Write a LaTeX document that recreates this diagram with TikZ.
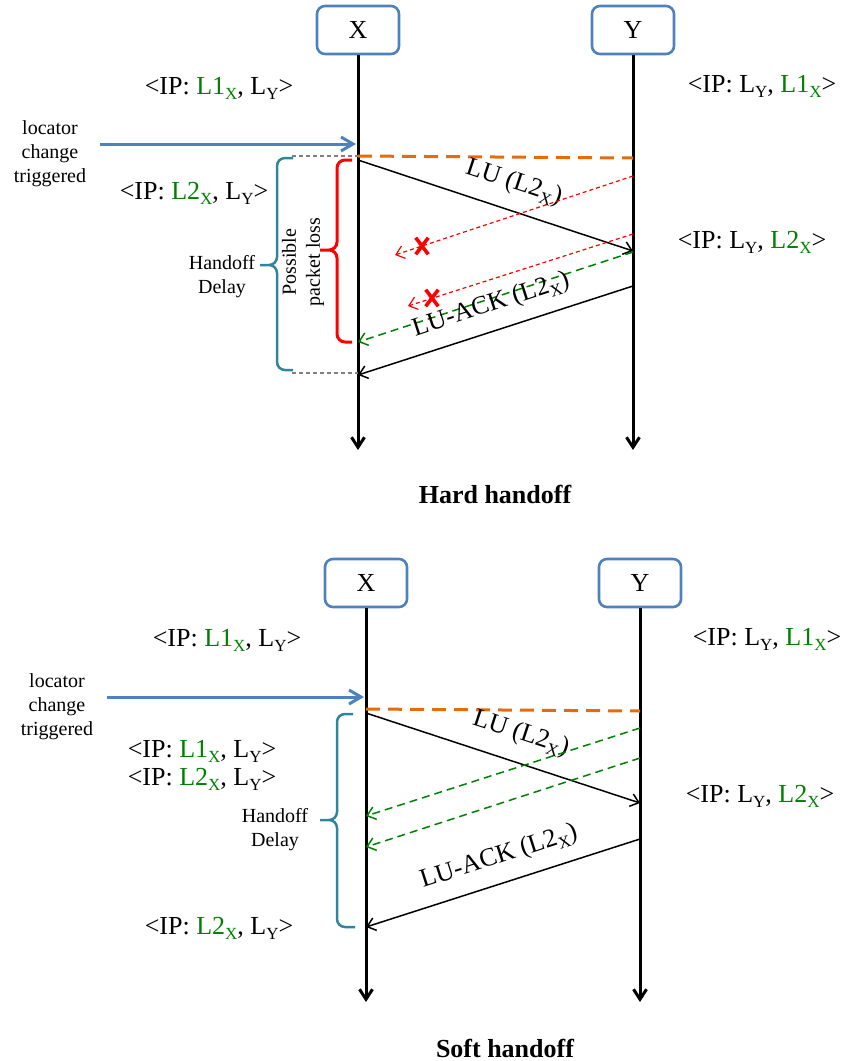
\documentclass[tikz,border=0pt]{standalone}
\usepackage{fontspec}
\setmainfont{Liberation Serif}
\usepackage{xcolor}
\definecolor{boxblue}{RGB}{79,129,189}
\definecolor{hoorange}{RGB}{228,108,10}
\definecolor{braceteal}{RGB}{49,133,155}
\definecolor{locgreen}{RGB}{0,128,0}
\definecolor{guidegray}{RGB}{128,128,128}
\usepackage{tikz}
\usetikzlibrary{arrows.meta, shapes.misc}

\newcommand{\sbx}[1]{\raisebox{-2.6pt}{\fontsize{8.5}{9}\selectfont #1}}
\newcommand{\locx}[1]{\textcolor{locgreen}{L#1\sbx{X}}}
\newcommand{\locy}{L\sbx{Y}}

\tikzset{
  entity/.style={draw=boxblue, line width=1.3pt, rounded corners=4pt,
    minimum width=41pt, minimum height=24pt, font=\fontsize{13}{15.6}\selectfont},
  lifeline/.style={line width=1.5pt, -{Straight Barb[length=5pt,width=6.5pt]}},
  trigarrow/.style={boxblue, line width=1.5pt, -{Straight Barb[length=6pt,width=7pt]}},
  switchline/.style={hoorange, line width=1.5pt, dash pattern=on 7pt off 4pt},
  msg/.style={line width=0.75pt, -{Straight Barb[length=4pt,width=6.5pt]}},
  lostmsg/.style={red, line width=0.6pt, dash pattern=on 2pt off 1.5pt,
    -{Straight Barb[length=4pt,width=6.5pt]}},
  dupmsg/.style={locgreen, line width=0.75pt, dash pattern=on 4pt off 2.5pt,
    -{Straight Barb[length=4pt,width=6.5pt]}},
  guideline/.style={guidegray, line width=0.6pt, dash pattern=on 2pt off 1.5pt},
  delaybrace/.style={braceteal, line width=1.25pt, rounded corners=4pt},
  lossbrace/.style={red, line width=1.5pt, rounded corners=4pt},
  lossmark/.style={cross out, draw=red, line width=1.8pt, minimum width=4.5pt,
    minimum height=6.5pt, inner sep=0pt},
  iplabel/.style={anchor=base, inner sep=0pt, font=\fontsize{13}{15.6}\selectfont},
  msglabel/.style={inner sep=0pt, font=\fontsize{13}{15.6}\selectfont},
  notetext/.style={align=center, inner sep=0pt, font=\fontsize{10}{12}\selectfont},
  casetitle/.style={anchor=base, inner sep=0pt, font=\fontsize{13}{15.6}\selectfont\bfseries},
}

\begin{document}
\begin{tikzpicture}[x=0.5pt, y=-0.5pt]
  \useasboundingbox (0,0) rectangle (843,1061);

  % ---- Hard handoff (top) ----
  \node[entity] (X1) at (358,30) {X};
  \node[entity] (Y1) at (633,30) {Y};
  \coordinate (X1end) at (358,450);
  \coordinate (Y1end) at (633,450);
  \draw[lifeline] (X1) -- (X1end);
  \draw[lifeline] (Y1) -- (Y1end);

  \node[iplabel] (ipx1) at (219,94) {<IP: \locx{1}, \locy>};
  \node[iplabel] (ipy1) at (762,92) {<IP: \locy, \locx{1}>};
  \node[iplabel] (ipx2) at (194,199) {<IP: \locx{2}, \locy>};
  \node[iplabel] (ipy2) at (752,248) {<IP: \locy, \locx{2}>};

  % locator change trigger
  \node[notetext] (trig1) at (50,154) {locator\\change\\triggered};
  \coordinate (trig1s) at (100,144);
  \coordinate (X1trig) at (356,144);
  \draw[trigarrow] (trig1s) -- (X1trig);

  % switch instant
  \coordinate (X1sw) at (358,156);
  \coordinate (Y1sw) at (633,158);
  \draw[switchline] (X1sw) -- (Y1sw);

  % messages
  \coordinate (X1lu) at (358,160);
  \coordinate (Y1lu) at (633,251);
  \draw[msg] (X1lu) -- (Y1lu);
  \node[msglabel, rotate=-18.3] (lu1) at (514,183) {LU (L2\sbx{X})};

  \coordinate (Y1r1) at (633,176);
  \coordinate (lost1) at (395,255);
  \draw[lostmsg] (Y1r1) -- (lost1);
  \node[lossmark] (cx1) at (422,246) {};
  \coordinate (Y1r2) at (633,234);
  \coordinate (lost2) at (408,306);
  \draw[lostmsg] (Y1r2) -- (lost2);
  \node[lossmark] (cx2) at (432,298) {};

  \coordinate (Y1g) at (633,252);
  \coordinate (X1g) at (358,342);
  \draw[dupmsg] (Y1g) -- (X1g);

  \coordinate (Y1ack) at (633,286);
  \coordinate (X1ack) at (358,375);
  \draw[msg] (Y1ack) -- (X1ack);
  \node[msglabel, rotate=18] (ack1) at (491,305) {LU-ACK (L2\sbx{X})};

  % delay and loss braces
  \coordinate (g1a) at (292,156);
  \coordinate (g1b) at (292,373);
  \coordinate (X1bot) at (358,373);
  \draw[guideline] (g1a) -- (X1sw);
  \draw[guideline] (g1b) -- (X1bot);
  \draw[delaybrace] (293,158) -| (277,265) -- (260,265)
                    (293,370) -| (277,265) -- (260,265);
  \node[notetext] (hd1) at (222,277) {Handoff\\Delay};
  \draw[lossbrace] (352,160) -| (337,250) -- (320,250)
                   (352,342) -| (337,250) -- (320,250);
  \node[notetext, rotate=90] (pl1) at (303,262) {Possible\\packet loss};

  \node[casetitle] (hard) at (495,503) {Hard handoff};

  % ---- Soft handoff (bottom) ----
  \node[entity] (X2) at (366,583) {X};
  \node[entity] (Y2) at (640,583) {Y};
  \coordinate (X2end) at (366,1002);
  \coordinate (Y2end) at (640,1002);
  \draw[lifeline] (X2) -- (X2end);
  \draw[lifeline] (Y2) -- (Y2end);

  \node[iplabel] (ipx3) at (227,646) {<IP: \locx{1}, \locy>};
  \node[iplabel] (ipy3) at (767,645) {<IP: \locy, \locx{1}>};
  \node[iplabel] (ipx4) at (202,757) {<IP: \locx{1}, \locy>};
  \node[iplabel] (ipx5) at (202,785) {<IP: \locx{2}, \locy>};
  \node[iplabel] (ipy4) at (760,802) {<IP: \locy, \locx{2}>};
  \node[iplabel] (ipx6) at (219,934) {<IP: \locx{2}, \locy>};

  % locator change trigger
  \node[notetext] (trig2) at (57,707) {locator\\change\\triggered};
  \coordinate (trig2s) at (107,697);
  \coordinate (X2trig) at (364,697);
  \draw[trigarrow] (trig2s) -- (X2trig);

  \coordinate (X2sw) at (366,709);
  \coordinate (Y2sw) at (640,711);
  \draw[switchline] (X2sw) -- (Y2sw);

  % messages
  \coordinate (X2lu) at (366,713);
  \coordinate (Y2lu) at (640,803);
  \draw[msg] (X2lu) -- (Y2lu);
  \node[msglabel, rotate=-18.2] (lu2) at (521,734) {LU (L2\sbx{X})};

  \coordinate (Y2g1) at (640,728);
  \coordinate (X2g1) at (366,816);
  \draw[dupmsg] (Y2g1) -- (X2g1);
  \coordinate (Y2g2) at (640,758);
  \coordinate (X2g2) at (366,847);
  \draw[dupmsg] (Y2g2) -- (X2g2);

  \coordinate (Y2ack) at (640,839);
  \coordinate (X2ack) at (366,927);
  \draw[msg] (Y2ack) -- (X2ack);
  \node[msglabel, rotate=17.8] (ack2) at (499,857) {LU-ACK (L2\sbx{X})};

  % delay brace
  \draw[delaybrace] (353,714) -| (337,820) -- (320,820)
                    (355,927) -| (337,820) -- (320,820);
  \node[notetext] (hd2) at (275,830) {Handoff\\Delay};

  \node[casetitle] (soft) at (505,1057) {Soft handoff};
\end{tikzpicture}
\end{document}
